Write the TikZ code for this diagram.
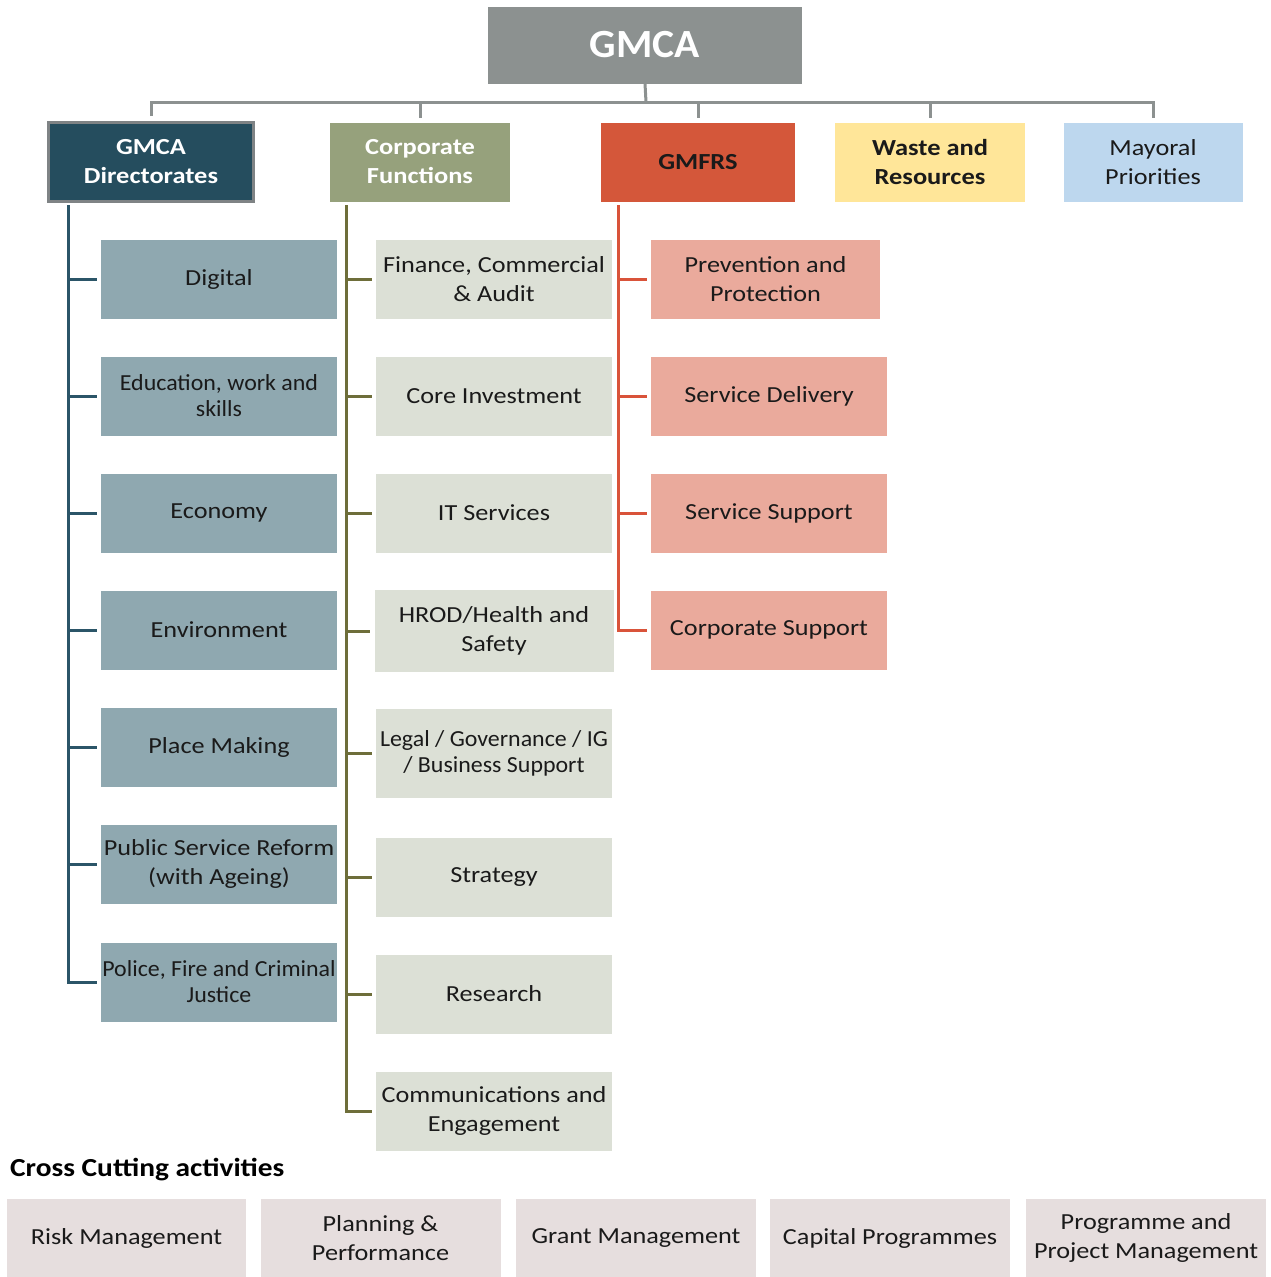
\documentclass[tikz,border=0pt]{standalone}
\usepackage{fontspec}
\setmainfont{Carlito}
\newfontfamily\widefont{Carlito}[FakeStretch=1.14]
\newfontfamily\narfont{Carlito}[FakeStretch=1.04]
\newfontfamily\headfont{Carlito}[FakeStretch=1.15]
\newfontfamily\titlefont{Carlito}[FakeStretch=1.13]
\usetikzlibrary{calc}
\definecolor{gmcagray}{HTML}{8C9190}
\definecolor{dirfill}{HTML}{254D5E}
\definecolor{dirborder}{HTML}{7F8385}
\definecolor{corpfill}{HTML}{96A17C}
\definecolor{firefill}{HTML}{D4573A}
\definecolor{wastefill}{HTML}{FFE699}
\definecolor{mayorfill}{HTML}{BDD7EE}
\definecolor{dirsub}{HTML}{8FA8B0}
\definecolor{corpsub}{HTML}{DCE0D6}
\definecolor{firesub}{HTML}{EAAA9C}
\definecolor{crossfill}{HTML}{E6DEDE}
\definecolor{tealline}{HTML}{2B5568}
\definecolor{oliveline}{HTML}{6E6E3A}
\definecolor{redline}{HTML}{D9533A}
\definecolor{txt}{HTML}{1A1A1A}
\begin{document}
\begin{tikzpicture}[x=1pt,y=-1pt,
  box/.style={rectangle,inner sep=0pt,align=center,text=txt},
  wbox/.style={box,font=\widefont\fontsize{23}{29.5}\selectfont},
  nbox/.style={font=\narfont\fontsize{23}{26}\selectfont},
  headbox/.style={rectangle,inner sep=0pt,align=center,
    font=\headfont\bfseries\fontsize{23}{29}\selectfont,minimum width=#1,minimum height=79},
  subdir/.style={wbox,fill=dirsub,minimum width=236,minimum height=79},
  subcorp/.style={wbox,fill=corpsub,minimum width=236,minimum height=79},
  subfire/.style={wbox,fill=firesub,minimum width=236,minimum height=79},
  cross/.style={wbox,fill=crossfill,minimum width=240,minimum height=78},
  conn/.style={line width=3pt,draw=gmcagray},
  tline/.style={line width=3pt,draw=tealline},
  oline/.style={line width=3pt,draw=oliveline},
  rline/.style={line width=3pt,draw=redline}]
\useasboundingbox (0,0) rectangle (1271,1277);
\fill[white] (0,0) rectangle (1271,1277);

% top
\node[rectangle,fill=gmcagray,minimum width=314,minimum height=77,inner sep=0pt,
  text=white,font=\narfont\bfseries\fontsize{40}{42}\selectfont] (gmca) at (645,45) {GMCA};
\node[headbox=205,fill=dirfill,draw=dirborder,line width=3pt,text=white] (dir) at (151,162) {GMCA\\Directorates};
\node[headbox=180,fill=corpfill,text=white] (corp) at (420,162) {Corporate\\Functions};
\node[headbox=194,fill=firefill,text=txt] (fire) at (698,162) {GMFRS};
\node[headbox=190,fill=wastefill,text=txt] (waste) at (930,162) {Waste and\\Resources};
\node[wbox,minimum width=179,minimum height=79,fill=mayorfill] (mayor) at (1153,162) {Mayoral\\Priorities};

\coordinate (bar) at (646,102);
\draw[conn] (gmca.south) -- (bar);
\draw[conn] ([yshift=5pt]dir.north) |- (bar) -| ([yshift=4pt]mayor.north);
\draw[conn] (corp.north |- bar) -- ([yshift=4pt]corp.north);
\draw[conn] (fire.north |- bar) -- ([yshift=4pt]fire.north);
\draw[conn] (waste.north |- bar) -- ([yshift=4pt]waste.north);

% directorates
\node[subdir] (d1) at (219,279) {Digital};
\node[subdir,nbox] (d2) at (219,396) {Education, work and\\skills};
\node[subdir] (d3) at (219,513) {Economy};
\node[subdir] (d4) at (219,630) {Environment};
\node[subdir] (d5) at (219,747) {Place Making};
\node[subdir] (d6) at (219,864) {Public Service Reform\\(with Ageing)};
\node[subdir,nbox] (d7) at (219,982) {Police, Fire and Criminal\\Justice};

\coordinate (dtop) at (68,205);
\draw[tline] (dtop) |- ([xshift=-4pt]d7.west);
\foreach \n in {d1,d2,d3,d4,d5,d6}
  \draw[tline] (\n.west -| dtop) -- ([xshift=-4pt]\n.west);

% corporate
\node[subcorp] (c1) at (494,279) {Finance, Commercial\\\& Audit};
\node[subcorp] (c2) at (494,396) {Core Investment};
\node[subcorp] (c3) at (494,513) {IT Services};
\node[subcorp,minimum width=239,minimum height=82] (c4) at (494,631) {HROD/Health and\\Safety};
\node[subcorp,minimum height=89,nbox] (c5) at (494,753) {Legal / Governance / IG\\/ Business Support};
\node[subcorp] (c6) at (494,877) {Strategy};
\node[subcorp] (c7) at (494,994) {Research};
\node[subcorp] (c8) at (494,1111) {Communications and\\Engagement};

\coordinate (ctop) at (346,205);
\draw[oline] (ctop) |- ([xshift=-4pt]c8.west);
\foreach \n in {c1,c2,c3,c4,c5,c6,c7}
  \draw[oline] (\n.west -| ctop) -- ([xshift=-4pt]\n.west);

% GMFRS
\node[subfire,minimum width=229] (f1) at (765.5,279) {Prevention and\\Protection};
\node[subfire] (f2) at (769,396) {Service Delivery};
\node[subfire] (f3) at (769,513) {Service Support};
\node[subfire] (f4) at (769,630) {Corporate Support};

\coordinate (ftop) at (618,205);
\draw[rline] (ftop) |- ([xshift=-4pt]f4.west);
\foreach \n in {f1,f2,f3}
  \draw[rline] (\n.west -| ftop) -- ([xshift=-4pt]\n.west);

% cross cutting
\node[anchor=west,inner sep=0pt,text=black,font=\titlefont\bfseries\fontsize{26}{30}\selectfont] (cct) at (10,1170) {Cross Cutting activities};
\node[cross,minimum width=239] (x1) at (126.5,1238) {Risk Management};
\node[cross] (x2) at (380.5,1238) {Planning \&\\Performance};
\node[cross] (x3) at (636,1238) {Grant Management};
\node[cross] (x4) at (890,1238) {Capital Programmes};
\node[cross] (x5) at (1146,1238) {Programme and\\Project Management};
\end{tikzpicture}
\end{document}
